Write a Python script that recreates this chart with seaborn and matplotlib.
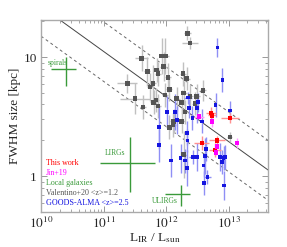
import numpy as np
import pandas as pd
import seaborn as sns
import matplotlib
matplotlib.use("Agg")
import matplotlib.pyplot as plt

# values, log10(L_IR/Lsun) and log10(size/kpc), errors in dex
val_lir = [12.34, 12.38, 11.61, 11.93, 11.99, 11.70, 11.85, 11.87, 11.96, 12.03,
           12.27, 11.38, 11.74, 11.79, 12.05, 12.33, 12.59, 11.50, 11.63, 11.84,
           11.87, 11.98, 12.17, 12.25, 12.38, 12.49, 12.30, 12.12, 12.11, 12.05,
           12.28, 13.02, 12.25, 12.28, 12.46, 11.80]
val_size = [1.20, 1.12, 0.99, 1.01, 1.01, 0.88, 0.89, 0.86, 0.92, 0.83,
            0.86, 0.78, 0.75, 0.78, 0.73, 0.82, 0.72, 0.65, 0.58, 0.64,
            0.59, 0.68, 0.65, 0.62, 0.67, 0.67, 0.54, 0.46, 0.43, 0.41,
            0.18, 0.33, 0.46, 0.70, 0.61, 0.62]
val_lir_err = [0.05, 0.13, 0.10, 0.05, 0.05, 0.05, 0.05, 0.05, 0.05, 0.05,
               0.05, 0.16, 0.05, 0.05, 0.05, 0.05, 0.05, 0.24, 0.05, 0.05,
               0.05, 0.05, 0.05, 0.05, 0.05, 0.05, 0.05, 0.05, 0.05, 0.05,
               0.05, 0.04, 0.05, 0.05, 0.05, 0.05]
val_size_err = [0.06, 0.05, 0.11, 0.15, 0.15, 0.12, 0.10, 0.10, 0.12, 0.12,
                0.10, 0.08, 0.12, 0.15, 0.10, 0.10, 0.09, 0.13, 0.10, 0.10,
                0.10, 0.10, 0.10, 0.10, 0.10, 0.10, 0.10, 0.10, 0.10, 0.10,
                0.20, 0.04, 0.10, 0.10, 0.10, 0.10]

goods_lir = [12.82, 12.90, 12.35, 12.51, 12.49, 12.01, 12.14, 12.79, 13.02, 12.42,
             12.17, 12.37, 12.57, 12.33, 12.34, 11.89, 11.89, 12.08, 12.23, 12.43,
             12.62, 12.64, 12.86, 12.89, 12.92, 12.94, 12.49, 12.30, 12.33, 12.60,
             12.66, 12.61, 12.93]
goods_size = [1.08, 0.81, 0.66, 0.62, 0.57, 0.54, 0.54, 0.60, 0.55, 0.49,
              0.47, 0.57, 0.46, 0.36, 0.30, 0.41, 0.26, 0.13, 0.15, 0.16,
              0.17, 0.23, 0.16, 0.12, 0.15, 0.16, 0.16, 0.13, 0.07, 0.09,
              -0.01, -0.06, -0.08]
goods_lir_err = [0.0, 0.0, 0.06, 0.0, 0.0, 0.0, 0.0, 0.0, 0.0, 0.0,
                 0.0, 0.0, 0.0, 0.0, 0.0, 0.0, 0.0, 0.0, 0.0, 0.07,
                 0.0, 0.0, 0.0, 0.0, 0.0, 0.0, 0.0, 0.0, 0.0, 0.0,
                 0.06, 0.0, 0.0]
goods_size_err = [0.08, 0.10, 0.05, 0.08, 0.12, 0.13, 0.15, 0.10, 0.08, 0.10,
                  0.12, 0.08, 0.10, 0.10, 0.10, 0.18, 0.14, 0.14, 0.12, 0.06,
                  0.15, 0.10, 0.12, 0.10, 0.10, 0.10, 0.12, 0.10, 0.15, 0.10,
                  0.06, 0.10, 0.12]

work_lir = [12.72, 12.73, 13.02, 12.57, 12.81, 12.78]
work_size = [0.53, 0.51, 0.49, 0.28, 0.30, 0.22]
work_lir_err = [0.08, 0.06, 0.14, 0.12, 0.13, 0.09]
work_size_err = [0.05, 0.04, 0.04, 0.06, 0.04, 0.06]

jin_lir = [12.53, 12.73, 13.13, 12.81, 12.80]
jin_size = [0.50, 0.46, 0.28, 0.25, 0.20]
jin_lir_err = [0.08, 0.0, 0.0, 0.0, 0.0]
jin_size_err = [0.02, 0.05, 0.04, 0.02, 0.02]

# local galaxies: centre, lower and upper limits (linear)
local_names = ["spirals", "LIRGs", "ULIRGs"]
local_lir = [2.5e10, 2.6e11, 1.74e12]
local_lir_lo = [1.45e10, 8.8e10, 9.6e11]
local_lir_hi = [3.6e10, 6.7e11, 2.4e12]
local_size = [7.9, 1.29, 0.71]
local_size_lo = [5.7, 0.73, 0.56]
local_size_hi = [10.0, 2.13, 0.84]

# size-luminosity relation and +-0.25 dex envelope (endpoints)
rel_lir = [1e10, 5e13]
rel_mid = [26.7, 1.06]
rel_hi = [47.4, 1.88]
rel_lo = [15.0, 0.59]

sns.set_style("ticks")
plt.rcParams["font.family"] = ["Liberation Serif", "DejaVu Serif"]
plt.rcParams["mathtext.fontset"] = "stix"

fig = plt.figure(figsize=(2.87, 2.47), dpi=100)
ax = fig.add_axes([0.143, 0.142, 0.791, 0.777])


def draw(lir, size, lir_err, size_err, color, ecolor, ms):
    lir = np.array(lir)
    size = np.array(size)
    le = np.array(lir_err)
    se = np.array(size_err)
    x = 10 ** lir
    y = 10 ** size
    xerr = [x - 10 ** (lir - le), 10 ** (lir + le) - x]
    yerr = [y - 10 ** (size - se), 10 ** (size + se) - y]
    ax.errorbar(x, y, xerr=xerr, yerr=yerr, fmt="none", ecolor=ecolor,
                elinewidth=1.0, capsize=0, zorder=2)
    df = pd.DataFrame({"x": x, "y": y})
    sns.scatterplot(data=df, x="x", y="y", ax=ax, marker="s", s=ms,
                    color=color, edgecolor="none", zorder=3, legend=False)


draw(val_lir, val_size, val_lir_err, val_size_err, "#555555", "#c0c0c0", 11)
draw(goods_lir, goods_size, goods_lir_err, goods_size_err, "#1515e0", "#8f8ff5", 7)
draw(work_lir, work_size, work_lir_err, work_size_err, "#ff0000", "#ff9090", 10)
draw(jin_lir, jin_size, jin_lir_err, jin_size_err, "#ff00ff", "#ff9cff", 10)

# local galaxies as big green crosses
for i in range(3):
    ax.errorbar(local_lir[i], local_size[i],
                xerr=[[local_lir[i] - local_lir_lo[i]], [local_lir_hi[i] - local_lir[i]]],
                yerr=[[local_size[i] - local_size_lo[i]], [local_size_hi[i] - local_size[i]]],
                fmt="none", ecolor="#3a9a3a", elinewidth=1.0, capsize=0, zorder=2)
ax.text(1.3e10, 8.6, "spirals", color="#3a9a3a", fontsize=5.5)
ax.text(1.05e11, 1.5, "LIRGs", color="#3a9a3a", fontsize=5.5)
ax.text(6.0e11, 0.6, "ULIRGs", color="#3a9a3a", fontsize=5.5)

rel = pd.DataFrame({"x": rel_lir, "mid": rel_mid, "hi": rel_hi, "lo": rel_lo})
sns.lineplot(data=rel, x="x", y="mid", ax=ax, color="#444444", lw=0.7, zorder=1)
sns.lineplot(data=rel, x="x", y="hi", ax=ax, color="#666666", lw=0.7,
             linestyle=(0, (3, 3)), zorder=1)
sns.lineplot(data=rel, x="x", y="lo", ax=ax, color="#666666", lw=0.7,
             linestyle=(0, (3, 3)), zorder=1)

ax.set_xscale("log")
ax.set_yscale("log")
ax.set_xlim(1e10, 10 ** 13.63)
ax.set_ylim(0.5, 20.5)
ax.set_yticks([1, 10])
ax.set_yticklabels(["1", "10"])
ax.yaxis.set_minor_formatter(plt.NullFormatter())
ax.set_xticks([1e10, 1e11, 1e12, 1e13])
ax.set_xticklabels([r"$10^{10}$", r"$10^{11}$", r"$10^{12}$", r"$10^{13}$"])
ax.tick_params(which="both", direction="in", top=True, right=True,
               color="#999999", labelsize=9.5, pad=3)
ax.tick_params(which="major", length=4, width=0.7)
ax.tick_params(which="minor", length=2, width=0.6)
for sp in ax.spines.values():
    sp.set_color("#aaaaaa")
    sp.set_linewidth(1.0)

ax.set_xlabel(r"L$_{\rm IR}$ / L$_{\rm sun}$", fontsize=9.5, labelpad=0)
ax.set_ylabel("FWHM size [kpc]", fontsize=9.5, labelpad=2)

labels = ["This work", "Jin+19", "Local galaxies", "Valentino+20 <z>=1.2",
          "GOODS-ALMA <z>=2.5"]
colors = ["#ff0000", "#ff00ff", "#3a9a3a", "#555555", "#1515e0"]
for i in range(5):
    ax.text(0.02, 0.255 - i * 0.052, labels[i], color=colors[i], fontsize=5.8,
            transform=ax.transAxes, va="center")

fig.savefig("out.png", dpi=100)
